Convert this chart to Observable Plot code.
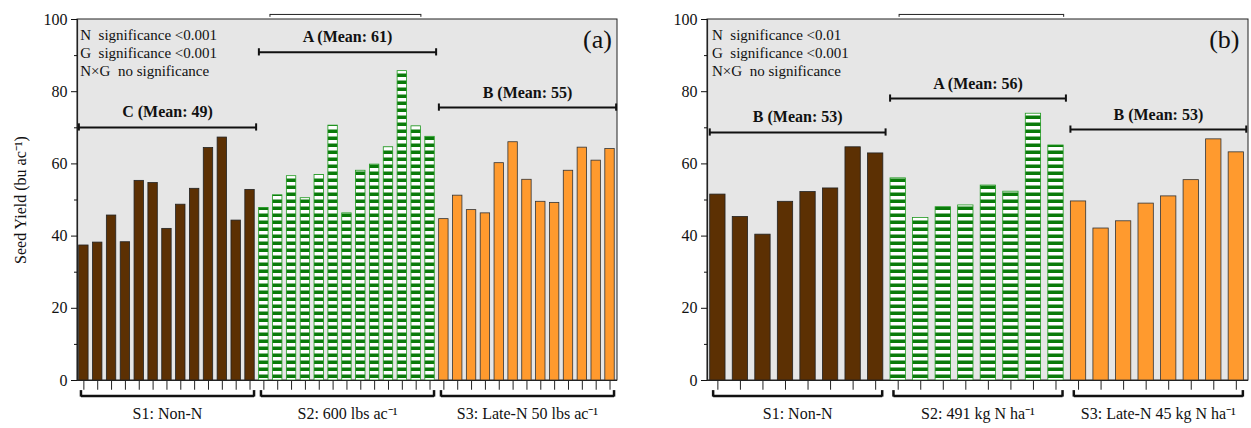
<!DOCTYPE html>
<html><head><meta charset="utf-8">
<script src="https://cdn.jsdelivr.net/npm/d3@7"></script>
<script src="https://cdn.jsdelivr.net/npm/@observablehq/plot@0.6"></script>
<style>body{margin:0;background:#fff}#chart{display:flex}</style>
</head><body><div id="chart"></div>
<script>
// Panel (a): 13 genotypes per system
const aS1 = [37.4, 38.2, 45.7, 38.3, 55.3, 54.7, 42, 48.7, 53.1, 64.4, 67.3, 44.3, 52.8]
const aS2 = [47.8, 51.3, 56.6, 50.5, 56.9, 70.6, 46.3, 58.1, 59.8, 64.6, 85.7, 70.4, 67.5]
const aS3 = [44.7, 51.2, 47.2, 46.3, 60.2, 66, 55.6, 49.5, 49.2, 58.1, 64.5, 60.9, 64.1]
const aGroups = ["S1: Non-N", "S2: 600 lbs ac⁻¹", "S3: Late-N 50 lbs ac⁻¹"]
const aMeans = ["C (Mean: 49)", "A (Mean: 61)", "B (Mean: 55)"]
const aMeanY = [70.1, 90.9, 75.6]
const aSig = ["N  significance <0.001", "G  significance <0.001", "N×G  no significance"]

// Panel (b): 8 genotypes per system
const bS1 = [51.5, 45.3, 40.4, 49.5, 52.2, 53.2, 64.6, 62.9]
const bS2 = [56, 45, 48, 48.5, 54, 52.3, 73.9, 65.1]
const bS3 = [49.6, 42.1, 44.1, 49, 51, 55.5, 66.8, 63.2]
const bGroups = ["S1: Non-N", "S2: 491 kg N ha⁻¹", "S3: Late-N 45 kg N ha⁻¹"]
const bMeans = ["B (Mean: 53)", "A (Mean: 56)", "B (Mean: 53)"]
const bMeanY = [68.7, 78.1, 69.5]
const bSig = ["N  significance <0.01", "G  significance <0.001", "N×G  no significance"]

const fills = ["#5c3003", "url(#hatch)", "#ff9a2e"]
const strokes = ["#222", "#1f9a1f", "#333"]
const serif = "Liberation Serif"

function panel({series, groups, means, meanY, sig, letter, topBr, width, ml, mr, ylabel}) {
  const n = series[0].length
  const rows = series.flatMap((s, g) => s.map((v, i) => ({g, i: g * n + i, v})))
  const gr = groups.map((name, g) => ({g, name, x1: g * n + 0.1, x2: g * n + n - 0.1, mx: g * n + n / 2, label: means[g], my: meanY[g]}))
  const caps = gr.flatMap(d => [{x: d.x1, y: d.my}, {x: d.x2, y: d.my}])
  const bcaps = gr.flatMap(d => [{x: d.x1 + 0.15}, {x: d.x2 - 0.15}])
  const svg = Plot.plot({
    width, height: 428, marginLeft: ml, marginRight: mr, marginTop: 19, marginBottom: 48,
    style: {fontSize: "14px", color: "#111", background: "white", overflow: "visible"},
    x: {type: "linear", domain: [0, 3 * n], axis: null},
    y: {domain: [0, 100], axis: null},
    marks: [
      Plot.rect([0], {x1: 0, x2: 3 * n, y1: 0, y2: 100, fill: "#e6e6e6", stroke: "#222", strokeWidth: 1}),
      Plot.rectY(rows, {x1: d => d.i + 0.12, x2: d => d.i + 0.8, y: "v", fill: d => fills[d.g], stroke: d => strokes[d.g], strokeWidth: 0.8}),
      Plot.ruleY([0], {stroke: "#222", strokeWidth: 1.2}),
      Plot.ruleX([0], {y1: 0, y2: 100, stroke: "#222", strokeWidth: 1.2}),
      Plot.axisY({ticks: d3.range(0, 101, 20), tickSize: 6, fontSize: 16, tickPadding: 4, label: null, fontFamily: serif}),
      Plot.axisY({ticks: d3.range(10, 100, 20), tickSize: 3, tickFormat: () => "", label: null}),
      Plot.ruleX(rows, {x: d => d.i + 0.46, y1: 0, y2: -2.7, stroke: "#222"}),
      // mean brackets
      Plot.link(gr, {x1: "x1", x2: "x2", y1: "my", y2: "my", stroke: "#111", strokeWidth: 2}),
      Plot.ruleX(caps, {x: "x", y1: d => d.y - 1, y2: d => d.y + 1, stroke: "#111", strokeWidth: 2}),
      Plot.text(gr, {x: "mx", y: d => d.my + 4.2, text: "label", fontWeight: "bold", fontSize: 16, fontFamily: serif}),
      // bottom group brackets
      Plot.link(gr, {x1: d => d.x1 + 0.15, x2: d => d.x2 - 0.15, y1: -4.3, y2: -4.3, stroke: "#111", strokeWidth: 2.5}),
      Plot.ruleX(bcaps, {x: "x", y1: -4.6, y2: -2.8, stroke: "#111", strokeWidth: 2.5}),
      Plot.text(gr, {x: "mx", y: -9.2, text: "name", fontSize: 16, fontFamily: serif}),
      // top bracket
      Plot.link([topBr], {x1: d => d[0], x2: d => d[1], y1: 101.4, y2: 101.4, stroke: "#222"}),
      Plot.ruleX(topBr, {y1: 100.6, y2: 101.4, stroke: "#222"}),
      Plot.text(sig, {x: 0.2, y: (d, i) => 95.6 - i * 4.9, text: d => d, textAnchor: "start", fontSize: 15, fontFamily: serif}),
      Plot.text([letter], {x: 3 * n - 0.4, y: 94.5, text: d => d, textAnchor: "end", fontSize: 26, fontFamily: serif})
    ]
  })
  const defs = d3.select(svg).insert("defs", ":first-child")
  const p = defs.append("pattern").attr("id", "hatch").attr("patternUnits", "userSpaceOnUse").attr("width", 8).attr("height", 7)
  p.append("rect").attr("width", 8).attr("height", 7).attr("fill", "white")
  p.append("rect").attr("y", 3.5).attr("width", 8).attr("height", 3.5).attr("fill", "#0a7a0a")
  if (ylabel) {
    d3.select(svg).append("text").attr("transform", `translate(26,200) rotate(-90)`).attr("text-anchor", "middle")
      .attr("font-size", 16).attr("font-family", serif).text("Seed Yield (bu ac⁻¹)")
  }
  return svg
}

d3.select("#chart").append(() => panel({series: [aS1, aS2, aS3], groups: aGroups, means: aMeans, meanY: aMeanY, sig: aSig,
  letter: "(a)", topBr: [13.9, 24.8], width: 640, ml: 77, mr: 23, ylabel: true}))
d3.select("#chart").append(() => panel({series: [bS1, bS2, bS3], groups: bGroups, means: bMeans, meanY: bMeanY, sig: bSig,
  letter: "(b)", topBr: [8.5, 15.8], width: 611, ml: 67, mr: 3, ylabel: false}))
</script></body></html>
